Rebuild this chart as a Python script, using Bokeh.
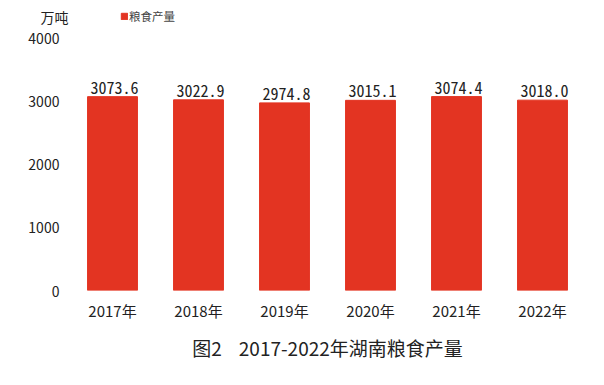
from bokeh.plotting import figure
from bokeh.models import ColumnDataSource, FixedTicker, Legend, LegendItem, Title, Range1d, FactorRange, LabelSet
from bokeh.core.properties import value
from bokeh.embed import file_html
from bokeh.resources import INLINE

years = ["2017年", "2018年", "2019年", "2020年", "2021年", "2022年"]
output = [3073.6, 3022.9, 2974.8, 3015.1, 3074.4, 3018.0]
labels = ["%.1f" % v for v in output]
y_ticks = [0, 1000, 2000, 3000, 4000]
unit = "万吨"
unit_pos = 4331

BAR = "#E33422"
CJK = "Noto Sans CJK SC"
NBSP = "\u00a0"

src = ColumnDataSource(dict(x=years, y=output, t=labels))

p = figure(width=588, height=369, x_range=FactorRange(*years, range_padding=0),
           y_range=Range1d(0, 4598), output_backend="svg", toolbar_location=None,
           min_border_left=69, min_border_right=3, min_border_top=0, min_border_bottom=77)
p.outline_line_color = None
p.grid.visible = False
p.background_fill_color = "white"

r = p.vbar(x="x", top="y", width=0.58, source=src, color=BAR)

ls = LabelSet(x="x", y="y", text="t", source=src, text_align="center", text_baseline="bottom",
              x_offset=2, y_offset=3, text_font=value("Noto Sans Mono CJK SC, DejaVu Sans Mono, monospace"),
              text_font_size="16px", text_color="#222222")
p.add_layout(ls)

p.yaxis.ticker = FixedTicker(ticks=y_ticks + [unit_pos])
overrides = {t: str(t) + NBSP * 2 + "\u2009" for t in y_ticks}
overrides[unit_pos] = unit
p.yaxis.major_label_overrides = overrides
for ax in (p.xaxis, p.yaxis):
    ax.axis_line_color = None
    ax.major_tick_line_color = None
    ax.minor_tick_line_color = None
    ax.major_label_text_color = "#222222"
    ax.major_label_text_font = CJK
p.yaxis.major_label_text_font_size = "14px"
p.yaxis.major_label_standoff = -5
p.xaxis.major_label_text_font_size = "15px"
p.xaxis.major_label_standoff = 3

legend = Legend(items=[LegendItem(label="粮食产量", renderers=[r])], location=(51, 266),
                label_text_font=CJK, label_text_font_size="11.5px", glyph_width=8, glyph_height=8,
                label_standoff=1, padding=2, margin=0, border_line_color=None,
                background_fill_alpha=0, label_height=12)
p.add_layout(legend)

t = Title(text="图2" + NBSP * 4 + "2017-2022年湖南粮食产量", align="center", text_font=CJK,
          text_font_size="19px", text_font_style="normal", text_color="#222222", standoff=17)
p.add_layout(t, "below")

open("out.html", "w").write(file_html(p, INLINE))
